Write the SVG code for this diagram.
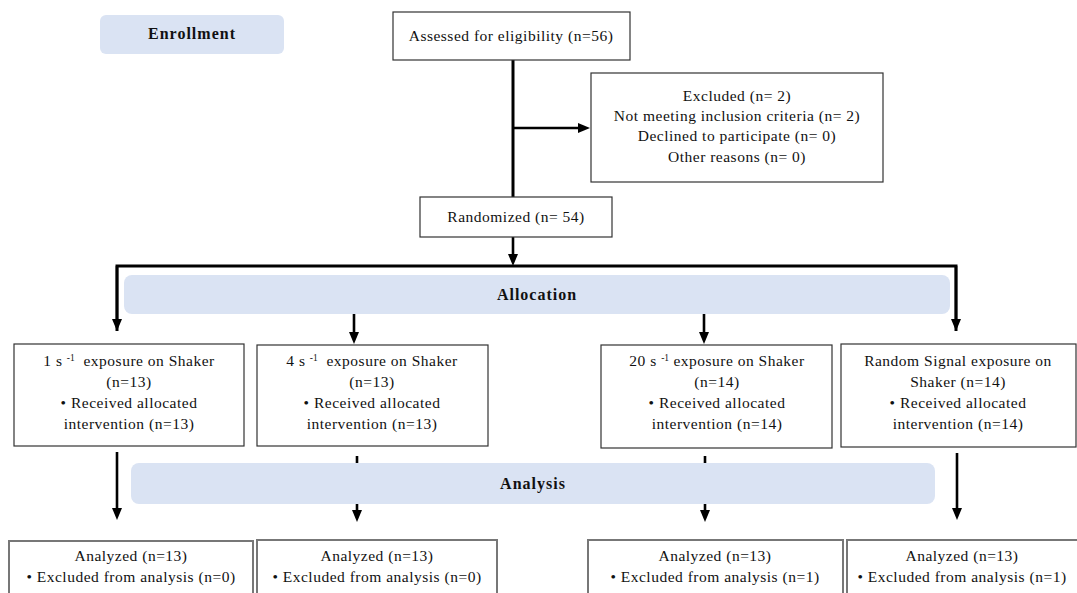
<svg xmlns="http://www.w3.org/2000/svg" width="1077" height="593" viewBox="0 0 1077 593">
<style>
.t{font-family:"Liberation Serif","Times New Roman",serif;font-size:15.5px;letter-spacing:0.5px;fill:#111;text-anchor:middle;white-space:pre}
.b{font-family:"Liberation Serif","Times New Roman",serif;font-size:16px;letter-spacing:1px;font-weight:bold;fill:#111;text-anchor:middle}
.box{fill:#fff;stroke:#333;stroke-width:1.2}
.box2{fill:#fff;stroke:#777;stroke-width:2}
.band{fill:#dae3f3}
.ln{fill:none;stroke:#000;stroke-width:3}
.ar{fill:none;stroke:#000;stroke-width:2.6;marker-end:url(#ah)}
.sup{font-size:9.5px;letter-spacing:0}
</style>
<defs>
<marker id="ah" markerUnits="userSpaceOnUse" markerWidth="12" markerHeight="12" refX="4" refY="6" orient="auto" viewBox="0 0 12 12">
<path d="M0,1 L12,6 L0,11 z" fill="#000"/>
</marker>
</defs>
<rect width="1077" height="593" fill="#fff"/>
<g id="phase-bands">
<g id="enrollment"><rect class="band" x="100" y="15" width="184" height="39" rx="6"/><text class="b" x="192" y="39">Enrollment</text></g>
<g id="allocation"><rect class="band" x="124" y="275" width="826" height="39" rx="8"/><text class="b" x="537" y="300">Allocation</text></g>
</g>
<g id="connectors">
<path class="ln" d="M513,60 V197"/>
<path class="ar" d="M513,128 H582"/>
<path class="ar" d="M513,237 V258"/>
<path class="ln" d="M117,331 V266 H956 V331"/>
<path class="ar" d="M117,266 V323"/>
<path class="ar" d="M956,266 V323"/>
<path class="ar" d="M354,314 V336"/>
<path class="ar" d="M704,314 V336"/>
<path class="ar" d="M117,452 V512"/>
<path class="ar" d="M357,456 V514"/>
<path class="ar" d="M705,456 V514"/>
<path class="ar" d="M957,453 V512"/>
</g>
<g id="analysis"><rect class="band" x="131" y="463" width="804" height="41" rx="8"/><text class="b" x="533" y="489">Analysis</text></g>
<g id="assessed"><rect class="box" x="393" y="12" width="237" height="48"/><text class="t" x="511" y="41">Assessed for eligibility (n=56)</text></g>
<g id="excluded"><rect class="box" x="591" y="73" width="292" height="109"/>
<text class="t" x="737" y="101">Excluded (n= 2)</text>
<text class="t" x="737" y="121">Not meeting inclusion criteria (n= 2)</text>
<text class="t" x="737" y="141">Declined to participate (n= 0)</text>
<text class="t" x="737" y="162">Other reasons (n= 0)</text></g>
<g id="randomized"><rect class="box" x="420" y="197" width="192" height="40"/><text class="t" x="516" y="222">Randomized (n= 54)</text></g>
<g id="group1"><rect class="box" x="14" y="344" width="230" height="102"/>
<text class="t" x="129" y="366">1 s <tspan class="sup" dy="-5">-1</tspan><tspan dy="5">  exposure on Shaker</tspan></text>
<text class="t" x="129" y="387">(n=13)</text>
<text class="t" x="129" y="408">• Received allocated</text>
<text class="t" x="129" y="429">intervention (n=13)</text></g>
<g id="group2"><rect class="box" x="257" y="345" width="231" height="101"/>
<text class="t" x="372" y="366">4 s <tspan class="sup" dy="-5">-1</tspan><tspan dy="5">  exposure on Shaker</tspan></text>
<text class="t" x="372" y="387">(n=13)</text>
<text class="t" x="372" y="408">• Received allocated</text>
<text class="t" x="372" y="429">intervention (n=13)</text></g>
<g id="group3"><rect class="box" x="601" y="345" width="231" height="103"/>
<text class="t" x="717" y="366">20 s <tspan class="sup" dy="-5">-1</tspan><tspan dy="5"> exposure on Shaker</tspan></text>
<text class="t" x="717" y="387">(n=14)</text>
<text class="t" x="717" y="408">• Received allocated</text>
<text class="t" x="717" y="429">intervention (n=14)</text></g>
<g id="group4"><rect class="box" x="841" y="344" width="235" height="103"/>
<text class="t" x="958" y="366">Random Signal exposure on</text>
<text class="t" x="958" y="387">Shaker (n=14)</text>
<text class="t" x="958" y="408">• Received allocated</text>
<text class="t" x="958" y="429">intervention (n=14)</text></g>
<g id="analyzed1"><rect class="box2" x="9" y="541" width="244" height="60"/>
<text class="t" x="131" y="561">Analyzed (n=13)</text>
<text class="t" x="131" y="582">• Excluded from analysis (n=0)</text></g>
<g id="analyzed2"><rect class="box2" x="257" y="540" width="240" height="60"/>
<text class="t" x="377" y="561">Analyzed (n=13)</text>
<text class="t" x="377" y="582">• Excluded from analysis (n=0)</text></g>
<g id="analyzed3"><rect class="box2" x="588" y="540" width="255" height="60"/>
<text class="t" x="715" y="561">Analyzed (n=13)</text>
<text class="t" x="715" y="582">• Excluded from analysis (n=1)</text></g>
<g id="analyzed4"><rect class="box2" x="847" y="540" width="232" height="60"/>
<text class="t" x="962" y="561">Analyzed (n=13)</text>
<text class="t" x="962" y="582">• Excluded from analysis (n=1)</text></g>
</svg>
